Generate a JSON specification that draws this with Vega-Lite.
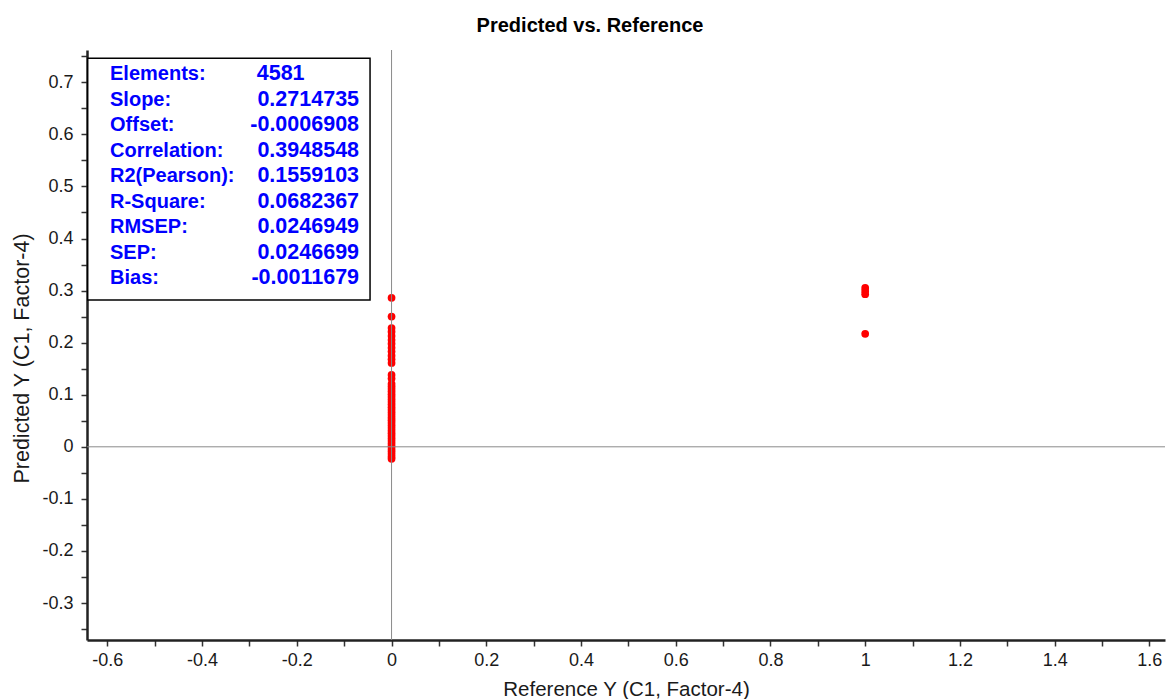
{
  "$schema": "https://vega.github.io/schema/vega-lite/v6.json",
  "width": 1078,
  "height": 590,
  "autosize": "none",
  "padding": {"left": 87, "top": 50, "right": 1, "bottom": 59},
  "background": "white",
  "config": {"view": {"stroke": null}, "font": "Liberation Sans"},
  "title": {"text": "Predicted vs. Reference", "fontSize": 20, "fontWeight": "bold", "font": "Liberation Sans", "color": "#000000", "anchor": "middle", "frame": "group", "dx": -36, "dy": 23, "offset": 18, "baseline": "alphabetic"},
  "datasets": {
    "points": [
      {"reference": 0, "predicted": -0.023}, {"reference": 0, "predicted": -0.019}, {"reference": 0, "predicted": -0.014},
      {"reference": 0, "predicted": -0.009}, {"reference": 0, "predicted": -0.004}, {"reference": 0, "predicted": 0.001},
      {"reference": 0, "predicted": 0.006}, {"reference": 0, "predicted": 0.011}, {"reference": 0, "predicted": 0.016},
      {"reference": 0, "predicted": 0.021}, {"reference": 0, "predicted": 0.026}, {"reference": 0, "predicted": 0.031},
      {"reference": 0, "predicted": 0.036}, {"reference": 0, "predicted": 0.041}, {"reference": 0, "predicted": 0.046},
      {"reference": 0, "predicted": 0.051}, {"reference": 0, "predicted": 0.056}, {"reference": 0, "predicted": 0.061},
      {"reference": 0, "predicted": 0.066}, {"reference": 0, "predicted": 0.071}, {"reference": 0, "predicted": 0.076},
      {"reference": 0, "predicted": 0.081}, {"reference": 0, "predicted": 0.086}, {"reference": 0, "predicted": 0.091},
      {"reference": 0, "predicted": 0.096}, {"reference": 0, "predicted": 0.101}, {"reference": 0, "predicted": 0.106},
      {"reference": 0, "predicted": 0.111}, {"reference": 0, "predicted": 0.116}, {"reference": 0, "predicted": 0.121},
      {"reference": 0, "predicted": 0.131}, {"reference": 0, "predicted": 0.138}, {"reference": 0, "predicted": 0.161},
      {"reference": 0, "predicted": 0.168}, {"reference": 0, "predicted": 0.175}, {"reference": 0, "predicted": 0.183},
      {"reference": 0, "predicted": 0.19}, {"reference": 0, "predicted": 0.198}, {"reference": 0, "predicted": 0.205},
      {"reference": 0, "predicted": 0.213}, {"reference": 0, "predicted": 0.221}, {"reference": 0, "predicted": 0.228},
      {"reference": 0, "predicted": 0.25}, {"reference": 0, "predicted": 0.286},
      {"reference": 1, "predicted": 0.305}, {"reference": 1, "predicted": 0.299}, {"reference": 1, "predicted": 0.293},
      {"reference": 1, "predicted": 0.217}
    ],
    "stats": [
      {"row": 1, "label": "Elements:", "value": "4581"},
      {"row": 2, "label": "Slope:", "value": "0.2714735"},
      {"row": 3, "label": "Offset:", "value": "-0.0006908"},
      {"row": 4, "label": "Correlation:", "value": "0.3948548"},
      {"row": 5, "label": "R2(Pearson):", "value": "0.1559103"},
      {"row": 6, "label": "R-Square:", "value": "0.0682367"},
      {"row": 7, "label": "RMSEP:", "value": "0.0246949"},
      {"row": 8, "label": "SEP:", "value": "0.0246699"},
      {"row": 9, "label": "Bias:", "value": "-0.0011679"}
    ]
  },
  "layer": [
    {
      "data": {"name": "points"},
      "mark": {"type": "circle", "size": 60, "color": "#ff0000", "opacity": 1},
      "encoding": {
        "x": {
          "field": "reference", "type": "quantitative",
          "scale": {"domain": [-0.643, 1.633], "nice": false, "zero": false},
          "axis": {
            "values": [-0.6, -0.5, -0.4, -0.3, -0.2, -0.1, 0, 0.1, 0.2, 0.3, 0.4, 0.5, 0.6, 0.7, 0.8, 0.9, 1, 1.1, 1.2, 1.3, 1.4, 1.5, 1.6],
            "labelExpr": "abs(datum.value*5 - round(datum.value*5)) < 0.001 ? '' + round(datum.value*10)/10 : ''",
            "tickSize": 6,
            "tickColor": "#333333", "tickWidth": 1.5,
            "domainColor": "#222222", "domainWidth": 2.5,
            "grid": false, "labelOverlap": false, "labelFlush": false,
            "labelFont": "Liberation Sans", "labelFontSize": 18, "labelColor": "#1a1a1a", "labelPadding": 5,
            "title": "Reference Y (C1, Factor-4)", "titleFont": "Liberation Sans", "titleFontSize": 20.5, "titleFontWeight": "normal", "titleColor": "#1a1a1a",
            "titleY": 49, "titleBaseline": "middle"
          }
        },
        "y": {
          "field": "predicted", "type": "quantitative",
          "scale": {"domain": [-0.371, 0.762], "nice": false, "zero": false},
          "axis": {
            "orient": "left",
            "values": [-0.35, -0.3, -0.25, -0.2, -0.15, -0.1, -0.05, 0, 0.05, 0.1, 0.15, 0.2, 0.25, 0.3, 0.35, 0.4, 0.45, 0.5, 0.55, 0.6, 0.65, 0.7, 0.75],
            "labelExpr": "abs(datum.value*10 - round(datum.value*10)) < 0.001 ? '' + round(datum.value*10)/10 : ''",
            "tickSize": 6,
            "tickColor": "#333333", "tickWidth": 1.5,
            "domainColor": "#222222", "domainWidth": 2.5,
            "grid": false, "labelOverlap": false, "labelFlush": false,
            "labelFont": "Liberation Sans", "labelFontSize": 18, "labelColor": "#1a1a1a", "labelPadding": 8,
            "title": "Predicted Y (C1, Factor-4)", "titleFont": "Liberation Sans", "titleFontSize": 21.5, "titleFontWeight": "normal", "titleColor": "#1a1a1a",
            "titleX": -65, "titleY": 308, "titleBaseline": "middle", "titleAlign": "center", "titleAngle": -90
          }
        }
      }
    },
    {
      "data": {"values": [{"zero": 0}]},
      "mark": {"type": "rule", "color": "#8a8a8a", "strokeWidth": 1},
      "encoding": {"x": {"field": "zero", "type": "quantitative"}}
    },
    {
      "data": {"values": [{"zero": 0}]},
      "mark": {"type": "rule", "color": "#8a8a8a", "strokeWidth": 1},
      "encoding": {"y": {"field": "zero", "type": "quantitative", "scale": {"domain": [-0.371, 0.762], "nice": false, "zero": false}, "axis": null}}
    },
    {
      "data": {"name": "stats"},
      "transform": [{"filter": "datum.row == 1"}],
      "mark": {"type": "rect", "fill": "white", "stroke": "#000000", "strokeWidth": 1.5},
      "encoding": {
        "x": {"datum": -0.6415, "type": "quantitative"},
        "x2": {"datum": -0.0454},
        "y": {"datum": 0.385, "type": "quantitative", "scale": {"domain": [0.06, 23.16], "nice": false, "zero": false, "reverse": true}, "axis": null},
        "y2": {"datum": 9.849}
      }
    },
    {
      "data": {"name": "stats"},
      "mark": {"type": "text", "align": "left", "baseline": "middle", "font": "Liberation Sans", "fontWeight": "bold", "fontSize": 20, "color": "#0000ff"},
      "encoding": {
        "x": {"datum": -0.5944, "type": "quantitative"},
        "y": {"field": "row", "type": "quantitative", "scale": {"domain": [0.06, 23.16], "nice": false, "zero": false, "reverse": true}, "axis": null},
        "text": {"field": "label"}
      }
    },
    {
      "data": {"name": "stats"},
      "transform": [{"filter": "datum.row != 1"}],
      "mark": {"type": "text", "align": "right", "baseline": "middle", "font": "Liberation Sans", "fontWeight": "bold", "fontSize": 21.5, "color": "#0000ff"},
      "encoding": {
        "x": {"datum": -0.0686, "type": "quantitative"},
        "y": {"field": "row", "type": "quantitative", "scale": {"domain": [0.06, 23.16], "nice": false, "zero": false, "reverse": true}, "axis": null},
        "text": {"field": "value"}
      }
    },
    {
      "data": {"name": "stats"},
      "transform": [{"filter": "datum.row == 1"}],
      "mark": {"type": "text", "align": "left", "baseline": "middle", "font": "Liberation Sans", "fontWeight": "bold", "fontSize": 21.5, "color": "#0000ff"},
      "encoding": {
        "x": {"datum": -0.2846, "type": "quantitative"},
        "y": {"field": "row", "type": "quantitative", "scale": {"domain": [0.06, 23.16], "nice": false, "zero": false, "reverse": true}, "axis": null},
        "text": {"field": "value"}
      }
    }
  ],
  "resolve": {"scale": {"y": "independent"}}
}
